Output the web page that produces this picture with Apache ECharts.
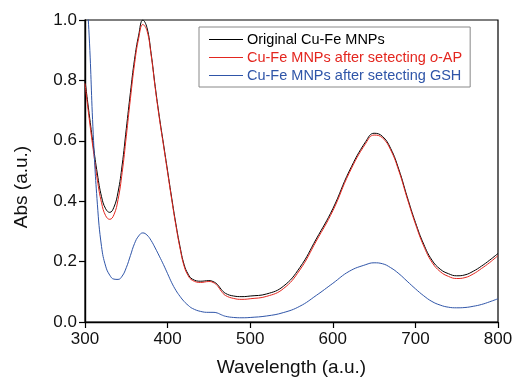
<!DOCTYPE html>
<html>
<head>
<meta charset="utf-8">
<script src="https://cdn.jsdelivr.net/npm/echarts@6/dist/echarts.min.js"></script>
<style>
  html, body { margin: 0; padding: 0; background: #fff; }
  #chart { width: 513px; height: 383px; }
</style>
</head>
<body>
<div id="chart"></div>
<script>
// wavelength (nm)
var wavelength = [300, 305, 310, 315, 320, 325, 330, 335, 340, 345, 350, 355, 360, 365, 370, 375, 380, 385, 390, 395,
  400, 405, 410, 415, 420, 425, 430, 440, 450, 455, 460, 465, 470, 480, 490, 500, 520, 540, 560, 580,
  600, 620, 640, 650, 660, 670, 680, 690, 700, 710, 720, 730, 740, 750, 760, 770, 780, 790, 800];

var original = [0.80, 0.69, 0.585, 0.49, 0.415, 0.375, 0.363, 0.38, 0.43, 0.52, 0.64, 0.76, 0.87, 0.95, 1.0, 0.975, 0.89, 0.78, 0.68, 0.59,
  0.50, 0.41, 0.325, 0.25, 0.19, 0.158, 0.142, 0.135, 0.137, 0.134, 0.125, 0.108, 0.095, 0.086, 0.084, 0.086, 0.093, 0.118, 0.18, 0.275,
  0.375, 0.50, 0.598, 0.625, 0.615, 0.575, 0.505, 0.415, 0.33, 0.258, 0.205, 0.175, 0.16, 0.153, 0.156, 0.168, 0.185, 0.205, 0.227];

var afterOAP = [0.79, 0.675, 0.57, 0.47, 0.395, 0.352, 0.34, 0.355, 0.405, 0.495, 0.615, 0.74, 0.855, 0.94, 0.985, 0.965, 0.885, 0.775, 0.675, 0.585,
  0.495, 0.405, 0.32, 0.245, 0.185, 0.153, 0.138, 0.131, 0.134, 0.131, 0.121, 0.102, 0.088, 0.078, 0.075, 0.077, 0.085, 0.11, 0.172, 0.268,
  0.368, 0.494, 0.592, 0.619, 0.61, 0.57, 0.50, 0.41, 0.325, 0.252, 0.198, 0.167, 0.151, 0.144, 0.147, 0.159, 0.177, 0.197, 0.22];

var afterGSH = [1.16, 0.95, 0.62, 0.39, 0.25, 0.185, 0.155, 0.142, 0.141, 0.152, 0.18, 0.22, 0.26, 0.285, 0.295, 0.288, 0.27, 0.245, 0.218, 0.19,
  0.16, 0.13, 0.105, 0.085, 0.068, 0.055, 0.045, 0.035, 0.032, 0.032, 0.03, 0.024, 0.019, 0.015, 0.014, 0.015, 0.02, 0.031, 0.052, 0.088,
  0.128, 0.168, 0.19, 0.196, 0.193, 0.18, 0.16, 0.135, 0.11, 0.087, 0.068, 0.056, 0.049, 0.047, 0.048, 0.052, 0.058, 0.067, 0.077];

var names = ["Original Cu-Fe MNPs", "Cu-Fe MNPs after setecting o-AP", "Cu-Fe MNPs after setecting GSH"];
var colors = ["#000000", "#e3261f", "#2f55a8"];
var font = "Liberation Sans, Arial, sans-serif";

function pairs(ys) {
  return wavelength.map(function (x, i) { return [x, ys[i]]; });
}

var chart = echarts.init(document.getElementById("chart"));
chart.setOption({
  animation: false,
  grid: { left: 85, right: 15, top: 20, bottom: 61, outerBoundsMode: "none", show: true, borderColor: "#000", borderWidth: 1.2 },
  legend: {
    orient: "vertical",
    left: 199,
    top: 27,
    padding: [5, 8, 4, 10],
    itemGap: 3,
    itemWidth: 34,
    itemHeight: 1,
    icon: "rect",
    borderColor: "#888",
    borderWidth: 1,
    textStyle: { fontFamily: font, fontSize: 14.5, padding: [0, 0, 0, -1], rich: { i: { fontFamily: font, fontSize: 14.5, fontStyle: "italic", color: colors[1] } } },
    formatter: function (name) {
      return name === names[1] ? "Cu-Fe MNPs after setecting {i|o}-AP" : name;
    },
    data: names.map(function (n, i) { return { name: n, textStyle: { color: colors[i] } }; })
  },
  xAxis: {
    type: "value",
    min: 300, max: 800, interval: 100,
    name: "Wavelength (a.u.)",
    nameLocation: "middle",
    nameGap: 36,
    nameTextStyle: { fontFamily: font, fontSize: 19, color: "#111" },
    axisLine: { lineStyle: { color: "#000", width: 1.4 } },
    axisTick: { show: true, length: 6, lineStyle: { color: "#000", width: 1.2 } },
    axisLabel: { fontFamily: font, fontSize: 17, color: "#111", margin: 9 },
    splitLine: { show: false }
  },
  yAxis: {
    type: "value",
    min: 0, max: 1, interval: 0.2,
    name: "Abs (a.u.)",
    nameLocation: "middle",
    nameGap: 54,
    nameTextStyle: { fontFamily: font, fontSize: 19, color: "#111", padding: [0, 32, 0, 0] },
    axisLine: { show: true, lineStyle: { color: "#000", width: 1.4 } },
    axisTick: { show: true, length: 6, lineStyle: { color: "#000", width: 1.2 } },
    axisLabel: { fontFamily: font, fontSize: 17, color: "#111", margin: 8, formatter: function (v) { return v.toFixed(1); } },
    splitLine: { show: false }
  },
  series: [
    { name: names[0], type: "line", data: pairs(original), symbol: "none", smooth: 0.45, clip: true, lineStyle: { color: colors[0], width: 1 }, itemStyle: { color: colors[0] } },
    { name: names[1], type: "line", data: pairs(afterOAP), symbol: "none", smooth: 0.45, clip: true, lineStyle: { color: colors[1], width: 1 }, itemStyle: { color: colors[1] } },
    { name: names[2], type: "line", data: pairs(afterGSH), symbol: "none", smooth: 0.45, clip: true, lineStyle: { color: colors[2], width: 1 }, itemStyle: { color: colors[2] } }
  ]
});
</script>
</body>
</html>
